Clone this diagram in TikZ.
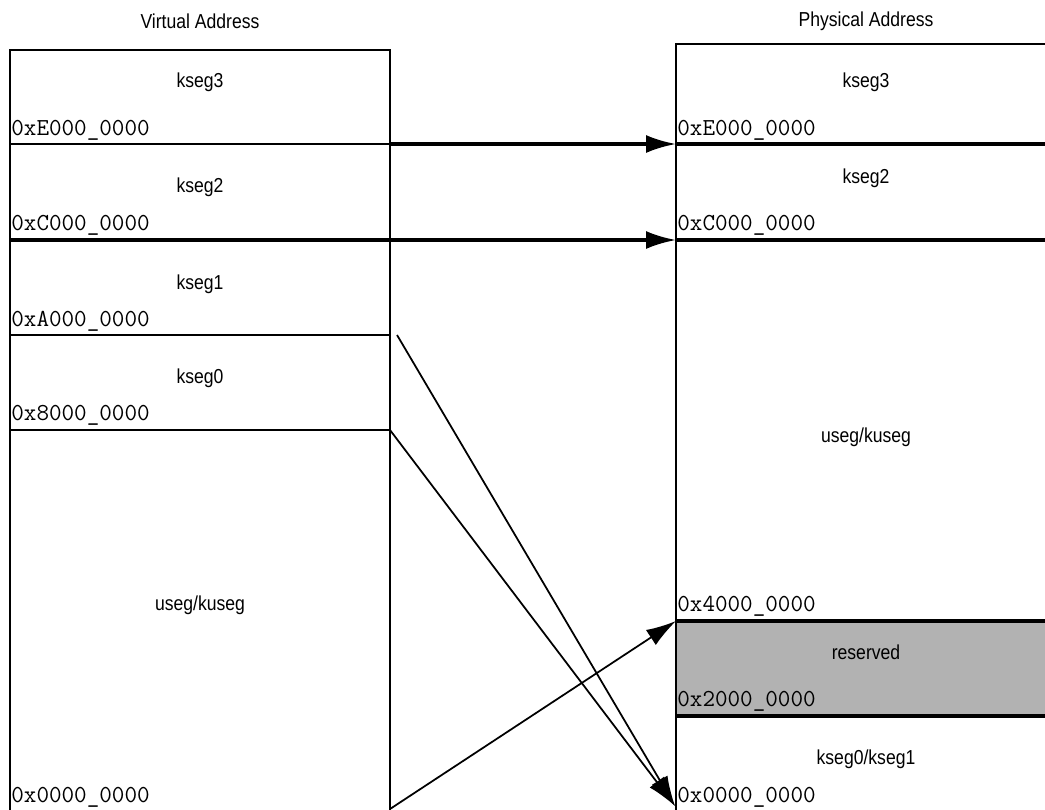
\documentclass[tikz,border=0pt]{standalone}
\usepackage{fontspec}
\setmainfont{Liberation Sans}
\newfontfamily\narrowsans[FakeStretch=0.87]{Liberation Sans}
\usetikzlibrary{arrows.meta}

\tikzset{
  box/.style={line width=1.3pt},
  bound/.style={line width=1.8pt},
  seglabel/.style={font=\narrowsans\fontsize{11.5}{13}\selectfont},
  addr/.style={anchor=base west, inner sep=0pt, font=\ttfamily\fontsize{13.9}{15}\selectfont},
  maparrow/.style={line width=1pt, -{Latex[length=0.6cm, width=0.36cm]}},
  mapthick/.style={line width=1.8pt, -{Latex[length=0.6cm, width=0.36cm]}}
}

\begin{document}
\begin{tikzpicture}[x=0.02cm,y=-0.02cm]
    \useasboundingbox (0,0) rectangle (1045,809);
    \clip (0,0) rectangle (1045,809);
    % physical reserved region
    \fill[black!30] (676,621) rectangle (1050,716);
    % outlines
    \draw[box] (10,815) -- (10,50) -- (390,50) -- (390,815);
    \draw[box] (1050,44) -- (676,44) -- (676,815);
    % coordinates of the boundaries
    \coordinate (vE) at (10,144);
    \coordinate (vEr) at (390,144);
    \coordinate (vC) at (10,240);
    \coordinate (vCr) at (390,240);
    \coordinate (vA) at (10,335);
    \coordinate (vAr) at (390,335);
    \coordinate (v8) at (10,430);
    \coordinate (v8r) at (390,430);
    \coordinate (v0r) at (390,809);
    \coordinate (pE) at (676,144);
    \coordinate (pEr) at (1050,144);
    \coordinate (pC) at (676,240);
    \coordinate (pCr) at (1050,240);
    \coordinate (p4) at (676,621);
    \coordinate (p4r) at (1050,621);
    \coordinate (p2) at (676,716);
    \coordinate (p2r) at (1050,716);
    \coordinate (p0) at (675,806);
    % boundaries
    \draw[box] (vE) -- (vEr);
    \draw[bound] (vC) -- (vCr);
    \draw[box] (vA) -- (vAr);
    \draw[box] (v8) -- (v8r);
    \draw[bound] (pE) -- (pEr);
    \draw[bound] (pC) -- (pCr);
    \draw[bound] (p4) -- (p4r);
    \draw[bound] (p2) -- (p2r);
    % mappings
    \draw[mapthick] (vEr) -- (pE);
    \draw[mapthick] (vCr) -- (pC);
    \draw[maparrow] ([xshift=4]vAr) -- (p0);
    \draw[maparrow] (v8r) -- (p0);
    \draw[maparrow] (v0r) -- (p4);
    % titles
    \node[seglabel] (vtitle) at (200,21) {Virtual Address};
    \node[seglabel] (ptitle) at (866,21) {Physical Address};
    % segment names
    \node[seglabel] (vk3) at (200,82) {kseg3};
    \node[seglabel] (vk2) at (200,187) {kseg2};
    \node[seglabel] (vk1) at (200,284) {kseg1};
    \node[seglabel] (vk0) at (200,378) {kseg0};
    \node[seglabel] (vku) at (200,605) {useg/kuseg};
    \node[seglabel] (pk3) at (866,82) {kseg3};
    \node[seglabel] (pk2) at (866,178) {kseg2};
    \node[seglabel] (pku) at (866,437) {useg/kuseg};
    \node[seglabel] (pres) at (866,652) {reserved};
    \node[seglabel] (pk01) at (866,759) {kseg0/kseg1};
    % addresses
    \node[addr] (aE) at (11,135) {0xE000\_0000};
    \node[addr] (aC) at (11,230) {0xC000\_0000};
    \node[addr] (aA) at (11,326) {0xA000\_0000};
    \node[addr] (a8) at (11,420) {0x8000\_0000};
    \node[addr] (a0) at (11,802) {0x0000\_0000};
    \node[addr] (bE) at (677,135) {0xE000\_0000};
    \node[addr] (bC) at (677,230) {0xC000\_0000};
    \node[addr] (b4) at (677,611) {0x4000\_0000};
    \node[addr] (b2) at (677,706) {0x2000\_0000};
    \node[addr] (b0) at (677,802) {0x0000\_0000};
\end{tikzpicture}
\end{document}
